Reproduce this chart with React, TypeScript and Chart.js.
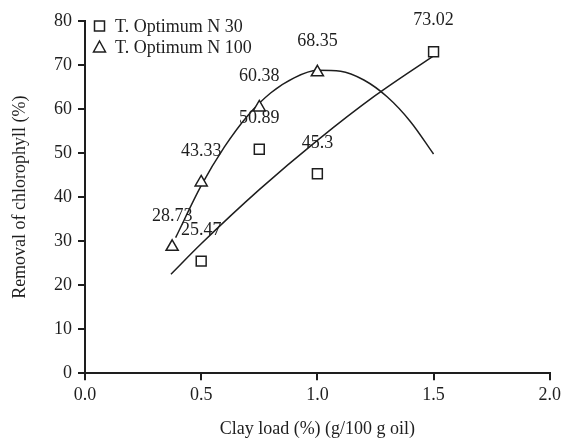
import React, { useEffect, useRef } from "react";
import { Chart, registerables } from "chart.js";

Chart.register(...registerables);

// Measured points
const n30X = [0.5, 0.75, 1.0, 1.5];
const n30Y = [25.47, 50.89, 45.3, 73.02];
const n100X = [0.375, 0.5, 0.75, 1.0];
const n100Y = [28.73, 43.33, 60.38, 68.35];

// Trend curves
const trend30X = [0.37, 0.5, 0.75, 1.0, 1.25, 1.5];
const trend30Y = [22.5, 29.4, 41.7, 52.9, 63.1, 72.1];
const trend100X = [0.39, 0.5, 0.6, 0.7, 0.8, 0.9, 1.0, 1.1, 1.2, 1.3, 1.4, 1.5];
const trend100Y = [30.8, 42.6, 51.4, 58.5, 63.7, 67.1, 68.8, 68.6, 66.6, 62.8, 57.2, 49.8];

const legendLabels = ["T. Optimum N 30", "T. Optimum N 100"];
const xTitle = "Clay load (%) (g/100 g oil)";
const yTitle = "Removal of chlorophyll (%)";

const INK = "#1e1e1e";
const FONT = "'Liberation Serif', 'Times New Roman', serif";

const pts = (xs: number[], ys: number[]) => xs.map((x, i) => ({ x, y: ys[i] }));

const labelPlugin = {
  id: "valueLabels",
  afterDatasetsDraw(chart: any) {
    const ctx = chart.ctx;
    ctx.save();
    ctx.font = `18px ${FONT}`;
    ctx.fillStyle = INK;
    ctx.textAlign = "center";
    ctx.textBaseline = "middle";
    [0, 1].forEach((di) => {
      const meta = chart.getDatasetMeta(di);
      const ds = chart.data.datasets[di];
      meta.data.forEach((el: any, i: number) => {
        ctx.fillText(String(ds.data[i].y), el.x, el.y - 31);
      });
    });
    ctx.restore();
  },
};

const legendPlugin = {
  id: "innerLegend",
  afterDraw(chart: any) {
    const ctx = chart.ctx;
    const left = chart.chartArea.left;
    const top = chart.chartArea.top;
    ctx.save();
    ctx.strokeStyle = INK;
    ctx.fillStyle = "#fff";
    ctx.lineWidth = 1.5;
    // square
    const sx = left + 14.5, sy = top + 5;
    ctx.beginPath();
    ctx.rect(sx - 5, sy - 5, 10, 10);
    ctx.fill();
    ctx.stroke();
    // triangle
    const tx = left + 14.5, ty = top + 26;
    ctx.beginPath();
    ctx.moveTo(tx, ty - 6);
    ctx.lineTo(tx + 6, ty + 5);
    ctx.lineTo(tx - 6, ty + 5);
    ctx.closePath();
    ctx.fill();
    ctx.stroke();
    ctx.fillStyle = INK;
    ctx.font = `18px ${FONT}`;
    ctx.textAlign = "left";
    ctx.textBaseline = "middle";
    ctx.fillText(legendLabels[0], left + 30, sy + 1);
    ctx.fillText(legendLabels[1], left + 30, ty + 1);
    ctx.restore();
  },
};

export default function App() {
  const ref = useRef<HTMLCanvasElement | null>(null);
  useEffect(() => {
    if (!ref.current) return;
    const chart = new Chart(ref.current, {
      type: "scatter",
      data: {
        datasets: [
          {
            label: legendLabels[0],
            data: pts(n30X, n30Y),
            showLine: false,
            pointStyle: "rect",
            pointRadius: 7,
            borderColor: INK,
            backgroundColor: "#fff",
            borderWidth: 1.5,
          },
          {
            label: legendLabels[1],
            data: pts(n100X, n100Y),
            showLine: false,
            pointStyle: "triangle",
            pointRadius: 7,
            borderColor: INK,
            backgroundColor: "#fff",
            borderWidth: 1.5,
          },
          {
            label: "trend30",
            data: pts(trend30X, trend30Y),
            showLine: true,
            pointRadius: 0,
            borderColor: INK,
            borderWidth: 1.5,
            tension: 0.4,
            cubicInterpolationMode: "monotone",
          },
          {
            label: "trend100",
            data: pts(trend100X, trend100Y),
            showLine: true,
            pointRadius: 0,
            borderColor: INK,
            borderWidth: 1.5,
            tension: 0.4,
            cubicInterpolationMode: "monotone",
          },
        ] as any,
      },
      options: {
        animation: false,
        responsive: false,
        layout: { padding: { left: 0, top: 21, right: 14, bottom: 0 } },
        plugins: { legend: { display: false }, tooltip: { enabled: false } },
        scales: {
          x: {
            type: "linear",
            min: 0,
            max: 2,
            afterFit: (s: any) => { s.height = 66.7; },
            ticks: {
              stepSize: 0.5,
              color: INK,
              padding: 4,
              font: { family: FONT, size: 18 },
              callback: (v: any) => Number(v).toFixed(1),
            },
            grid: {
              drawOnChartArea: false,
              drawTicks: true,
              tickLength: 7,
              color: INK,
              lineWidth: 2,
            },
            border: { display: true, color: INK, width: 2 },
            title: {
              display: true,
              text: xTitle,
              color: INK,
              font: { family: FONT, size: 18 },
              padding: 0,
            },
          },
          y: {
            min: 0,
            max: 80,
            afterFit: (s: any) => { s.width = 85; },
            ticks: {
              stepSize: 10,
              color: INK,
              padding: 6,
              font: { family: FONT, size: 18 },
            },
            grid: {
              drawOnChartArea: false,
              drawTicks: true,
              tickLength: 7,
              color: INK,
              lineWidth: 2,
            },
            border: { display: true, color: INK, width: 2 },
            title: {
              display: true,
              text: yTitle,
              color: INK,
              font: { family: FONT, size: 18 },
              padding: { top: 9, bottom: 0 },
            },
          },
        },
      },
      plugins: [labelPlugin, legendPlugin],
    });
    return () => chart.destroy();
  }, []);
  return (
    <div style={{ position: "fixed", left: 0, top: 0, width: 565, height: 440, background: "#fff" }}>
      <canvas ref={ref} width={565} height={440} />
    </div>
  );
}
